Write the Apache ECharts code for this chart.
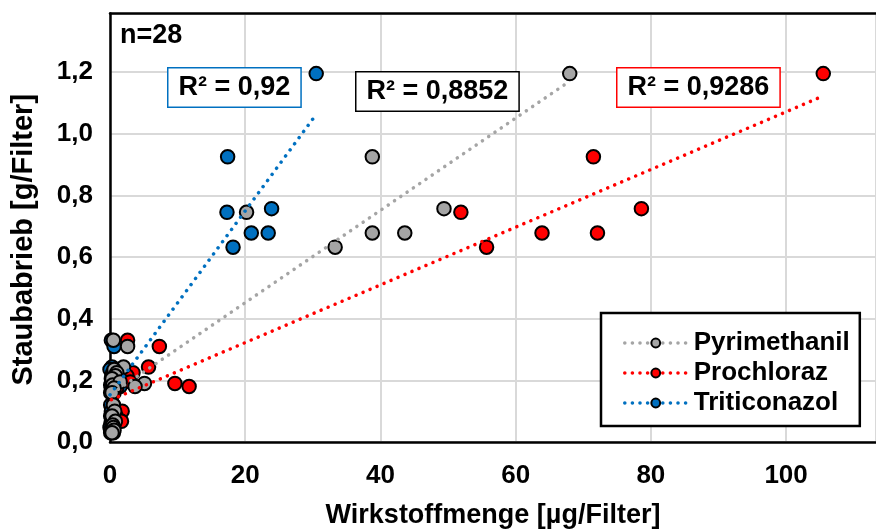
<!DOCTYPE html>
<html>
<head>
<meta charset="utf-8">
<script src="https://cdn.jsdelivr.net/npm/echarts@6/dist/echarts.min.js"></script>
<style>
  html, body { margin: 0; padding: 0; background: #ffffff; }
  #chart { width: 876px; height: 529px; }
</style>
</head>
<body>
<div id="chart"></div>
<script>
// Staubabrieb je Filter in g (gilt für alle drei Wirkstoffe desselben Filters), n = 28
const staubabrieb = [
  1.195, 0.925, 0.745, 0.757, 0.632, 0.678, 0.678,
  0.33, 0.31, 0.243, 0.235, 0.225, 0.215, 0.205, 0.19, 0.18, 0.185, 0.195,
  0.175, 0.16, 0.12, 0.10, 0.084, 0.067, 0.055, 0.047, 0.038, 0.03
];
// Wirkstoffmenge je Filter in µg
const pyrimethanil = [
  68.0, 38.8, 20.2, 49.4, 33.3, 38.8, 43.6,
  0.5, 2.6, 2.0, 0.6, 1.0, 0.8, 0.3, 5.1, 3.7, 0.4, 1.5,
  0.6, 0.3, 0.5, 0.7, 0.3, 0.8, 0.4, 0.5, 0.6, 0.3
];
const prochloraz = [
  105.5, 71.5, 51.9, 78.6, 55.7, 63.9, 72.1,
  2.6, 7.3, 5.7, 1.2, 3.4, 2.5, 1.5, 9.6, 11.7, 0.9, 3.0,
  1.0, 0.6, 0.5, 1.8, 0.9, 1.7, 0.6, 0.3, 0.2, 0.5
];
const triticonazol = [
  30.5, 17.4, 17.3, 23.9, 18.2, 20.9, 23.4,
  0.2, 0.6, 0.3, 0.0, 0.4, 0.3, 0.2, 1.2, 1.5, 0.1, 0.5,
  0.2, 0.1, 0.1, 0.2, 0.1, 0.2, 0.1, 0.0, 0.1, 0.1
];
const wirkstoffe = ['Pyrimethanil', 'Prochloraz', 'Triticonazol'];
const bestimmtheit = ['R² = 0,8852', 'R² = 0,9286', 'R² = 0,92'];
const xTicks = [0, 20, 40, 60, 80, 100];
const yTicks = [0, 0.2, 0.4, 0.6, 0.8, 1.0, 1.2];

const FONT = '"Liberation Sans", Arial, sans-serif';
const farben = { Pyrimethanil: '#A5A5A5', Prochloraz: '#FF0000', Triticonazol: '#0070C0' };
const mengen = { Pyrimethanil: pyrimethanil, Prochloraz: prochloraz, Triticonazol: triticonazol };
const X_MAX = 113.3, Y_MAX = 1.39;

// lineare Trendlinie (kleinste Quadrate) über den Datenbereich des Wirkstoffs
function trend(xs, ys) {
  const n = xs.length;
  const mx = xs.reduce((s, v) => s + v, 0) / n;
  const my = ys.reduce((s, v) => s + v, 0) / n;
  let sxy = 0, sxx = 0;
  for (let i = 0; i < n; i++) { sxy += (xs[i] - mx) * (ys[i] - my); sxx += (xs[i] - mx) ** 2; }
  const b = sxy / sxx, a = my - b * mx;
  const x0 = Math.min(...xs), x1 = Math.max(...xs);
  return [[x0, a + b * x0], [x1, a + b * x1]];
}

const punktLinie = { width: 3.5, type: [0.1, 7.5], cap: 'round' };

const trendSerien = wirkstoffe.map(name => ({
  name, type: 'line', z: 4,
  data: trend(mengen[name], staubabrieb),
  symbol: 'circle', symbolSize: 11, showSymbol: false,
  itemStyle: { color: farben[name], borderColor: '#000', borderWidth: 1.5 },
  lineStyle: Object.assign({ color: farben[name] }, punktLinie),
  emphasis: { disabled: true }, silent: true
}));

// Punkte: Triticonazol zuunterst, Pyrimethanil obenauf
const punktSerien = ['Triticonazol', 'Prochloraz', 'Pyrimethanil'].map(name => ({
  name, type: 'scatter', z: 3,
  data: mengen[name].map((x, i) => [x, staubabrieb[i]]),
  symbol: 'circle', symbolSize: 13.5,
  itemStyle: { color: farben[name], borderColor: '#000', borderWidth: 2, opacity: 1 }
}));

const boxen = [
  { text: bestimmtheit[2], x: 167, y: 67, border: '#0070C0' },
  { text: bestimmtheit[0], x: 355, y: 71, border: '#000000' },
  { text: bestimmtheit[1], x: 616, y: 67, border: '#FF0000' }
];

const tickLabel = { fontFamily: FONT, fontWeight: 'bold', fontSize: 26, color: '#000' };
const titel = { fontFamily: FONT, fontWeight: 'bold', fontSize: 27, color: '#000' };

const chart = echarts.init(document.getElementById('chart'), null, { renderer: 'canvas' });
chart.setOption({
  animation: false,
  backgroundColor: '#ffffff',
  grid: {
    left: 110, right: 0, top: 13.5, bottom: 87,
    show: false, containLabel: false, outerBoundsMode: 'none'
  },
  xAxis: [
    {
      type: 'value', min: 0, max: X_MAX, interval: 20,
      name: 'Wirkstoffmenge [µg/Filter]', nameLocation: 'middle', nameGap: 60,
      nameTextStyle: titel,
      axisLine: { show: true, lineStyle: { color: '#000', width: 2.5 } },
      axisTick: { show: false },
      axisLabel: Object.assign({ margin: 21, showMaxLabel: false,
        formatter: v => (xTicks.includes(v) ? String(v) : '') }, tickLabel),
      splitLine: { show: true, lineStyle: { color: '#D9D9D9', width: 2 } }
    },
    {
      // obere Rahmenlinie der Zeichenfläche
      type: 'value', position: 'top', min: 0, max: X_MAX, interval: 20,
      axisLine: { show: true, onZero: false, lineStyle: { color: '#000', width: 2.5 } },
      axisTick: { show: false }, axisLabel: { show: false }, splitLine: { show: false }
    }
  ],
  yAxis: {
    type: 'value', min: 0, max: Y_MAX, interval: 0.2,
    name: 'Staubabrieb [g/Filter]', nameLocation: 'middle', nameGap: 72, nameRotate: 90,
    nameTextStyle: Object.assign({ padding: [0, 24, 0, 0] }, titel, { fontSize: 29 }),
    axisLine: { show: true, lineStyle: { color: '#000', width: 2.5 } },
    axisTick: { show: false },
    axisLabel: Object.assign({
      margin: 17, showMaxLabel: false,
      formatter: v => {
        const t = yTicks.find(k => Math.abs(k - v) < 1e-6);
        return t === undefined ? '' : t.toFixed(1).replace('.', ',');
      }
    }, tickLabel),
    splitLine: { show: true, lineStyle: { color: '#D9D9D9', width: 2 } }
  },
  legend: {
    data: wirkstoffe,
    orient: 'vertical', left: 601, top: 313,
    backgroundColor: '#fff', borderColor: '#000', borderWidth: 2.5,
    padding: [17, 10, 10, 22], itemGap: 4, itemWidth: 62, itemHeight: 11,
    selectedMode: false,
    lineStyle: punktLinie,
    textStyle: { fontFamily: FONT, fontWeight: 'bold', fontSize: 26, color: '#000', padding: [0, 0, 0, 2] }
  },
  graphic: [
    {
      type: 'text', left: 120, top: 22, z: 10,
      style: { text: 'n=28', font: 'bold 27px ' + FONT, fill: '#000' }
    }
  ].concat(boxen.map(b => ({
    type: 'text', left: b.x, top: b.y, z: 10,
    style: {
      text: b.text, font: 'bold 27px ' + FONT, fill: '#000',
      backgroundColor: '#fff', borderColor: b.border, borderWidth: 1.5,
      padding: [6, 10, 5, 10]
    }
  }))),
  series: trendSerien.concat(punktSerien)
});
</script>
</body>
</html>
